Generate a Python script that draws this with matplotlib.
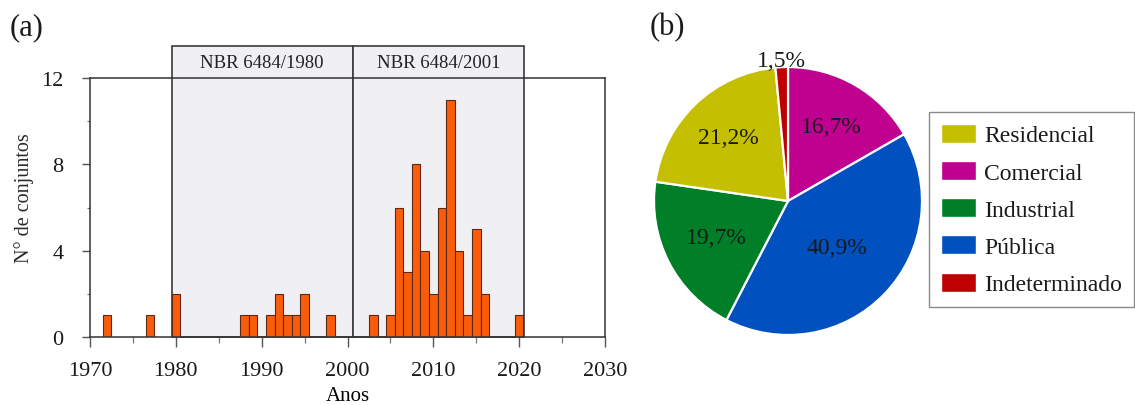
import matplotlib
matplotlib.use("Agg")
import matplotlib.pyplot as plt
from matplotlib.patches import Rectangle, Patch
import numpy as np


# (a) number of sets per year
years = [1972, 1977, 1980, 1988, 1989, 1991, 1992, 1993, 1994, 1995, 1998,
         2003, 2005, 2006, 2007, 2008, 2009, 2010, 2011, 2012, 2013, 2014,
         2015, 2016, 2020]
counts = [1, 1, 2, 1, 1, 1, 2, 1, 1, 2, 1,
          1, 1, 6, 3, 8, 4, 2, 6, 11, 4, 1,
          5, 2, 1]

# standard periods shown as shaded boxes
period_labels = ["NBR 6484/1980", "NBR 6484/2001"]
period_start = [1979.5, 2000.6]
period_end = [2000.6, 2020.6]

# (b) use category shares, in legend order
categories = ["Residencial", "Comercial", "Industrial", "Pública", "Indeterminado"]
shares = [21.2, 16.7, 19.7, 40.9, 1.5]
cat_colors = ["#c4bf00", "#c0008f", "#007f28", "#0050c0", "#c00000"]
# order the slices run clockwise from the top
pie_order = [1, 3, 2, 0, 4]

plt.rcParams.update({
    "font.family": "serif",
    "font.serif": ["Liberation Serif", "DejaVu Serif"],
    "text.color": "#1a1a1a",
})

W, H = 1135, 406
fig = plt.figure(figsize=(W / 100, H / 100), dpi=100)

# ------------------------------------------------------------
# (a) histogram
# ------------------------------------------------------------
ax = fig.add_axes([90 / W, 1 - 338 / H, 515 / W, 259 / H])

for lab, x0, x1 in zip(period_labels, period_start, period_end):
    ax.add_patch(Rectangle((x0, 0), x1 - x0, 13.5, facecolor="#f0eff3",
                           edgecolor="#3a3a3a", linewidth=1.2,
                           clip_on=False, zorder=0.5))
    ax.text((x0 + x1) / 2, 12.72, lab, ha="center", va="center",
            fontsize=13.5, color="#222222")

ax.bar(years, counts, width=1.0, color="#fa5c0c", edgecolor="#5c2a12",
       linewidth=0.8, zorder=2)

ax.set_xlim(1970, 2030)
ax.set_ylim(0, 12)
ax.set_xticks(np.arange(1970, 2031, 10))
ax.set_xticks(np.arange(1975, 2030, 10), minor=True)
ax.set_yticks([0, 4, 8, 12])
ax.set_yticks([2, 6, 10], minor=True)

ax.tick_params(axis="x", which="major", direction="out", length=7.5,
               width=1.0, color="#555555", labelsize=16, pad=10,
               labelcolor="#1a1a1a")
ax.tick_params(axis="x", which="minor", direction="out", length=4,
               width=0.9, color="#777777")
ax.tick_params(axis="y", which="major", direction="out", length=6,
               width=1.0, color="#555555", labelsize=16, pad=13,
               labelcolor="#1a1a1a")
ax.tick_params(axis="y", which="minor", direction="out", length=2.5,
               width=0.9, color="#777777")

for side in ax.spines.values():
    side.set_color("#333333")
    side.set_linewidth(1.1)

ax.set_xlabel("Anos", fontsize=15)
ax.xaxis.set_label_coords(0.5, -0.19)
ax.set_ylabel("N° de conjuntos", fontsize=14.5, color="#2a2a2a")
ax.yaxis.set_label_coords(-0.108, 0.54)

fig.text(10 / W, 1 - 28 / H, "(a)", fontsize=22, ha="left", va="center")

# ------------------------------------------------------------
# (b) pie
# ------------------------------------------------------------
r_px = 134
cx, cy = 788, 202
ax_pie = fig.add_axes([(cx - r_px) / W, 1 - (cy + r_px) / H,
                       2 * r_px / W, 2 * r_px / H])

pie_vals = [shares[i] for i in pie_order]
pie_cols = [cat_colors[i] for i in pie_order]
wedges, _ = ax_pie.pie(pie_vals, colors=pie_cols, startangle=90,
                       counterclock=False, radius=1,
                       wedgeprops=dict(edgecolor="white", linewidth=1.6))
ax_pie.set_xlim(-1, 1)
ax_pie.set_ylim(-1, 1)
ax_pie.set_aspect("equal")

label_r = [0.64, 0.5, 0.6, 0.65, 1.05]
for w, v, rr in zip(wedges, pie_vals, label_r):
    mid = np.deg2rad((w.theta1 + w.theta2) / 2)
    ax_pie.text(rr * np.cos(mid), rr * np.sin(mid),
                f"{v:.1f}%".replace(".", ","), ha="center", va="center",
                fontsize=17, clip_on=False)

fig.text(650 / W, 1 - 28 / H, "(b)", fontsize=22, ha="left", va="center")

handles = [Patch(facecolor=c, edgecolor="white") for c in cat_colors]
leg = fig.legend(handles, categories, loc="upper left",
                 bbox_to_anchor=(929 / W, 1 - 113 / H),
                 fontsize=17, frameon=True, fancybox=False,
                 edgecolor="#8a8a8a", framealpha=1,
                 handlelength=1.5, handleheight=0.85, handletextpad=0.35,
                 labelspacing=0.62, borderpad=0.5, borderaxespad=0)
leg.get_frame().set_linewidth(1.0)

fig.savefig("out.png", dpi=100)
